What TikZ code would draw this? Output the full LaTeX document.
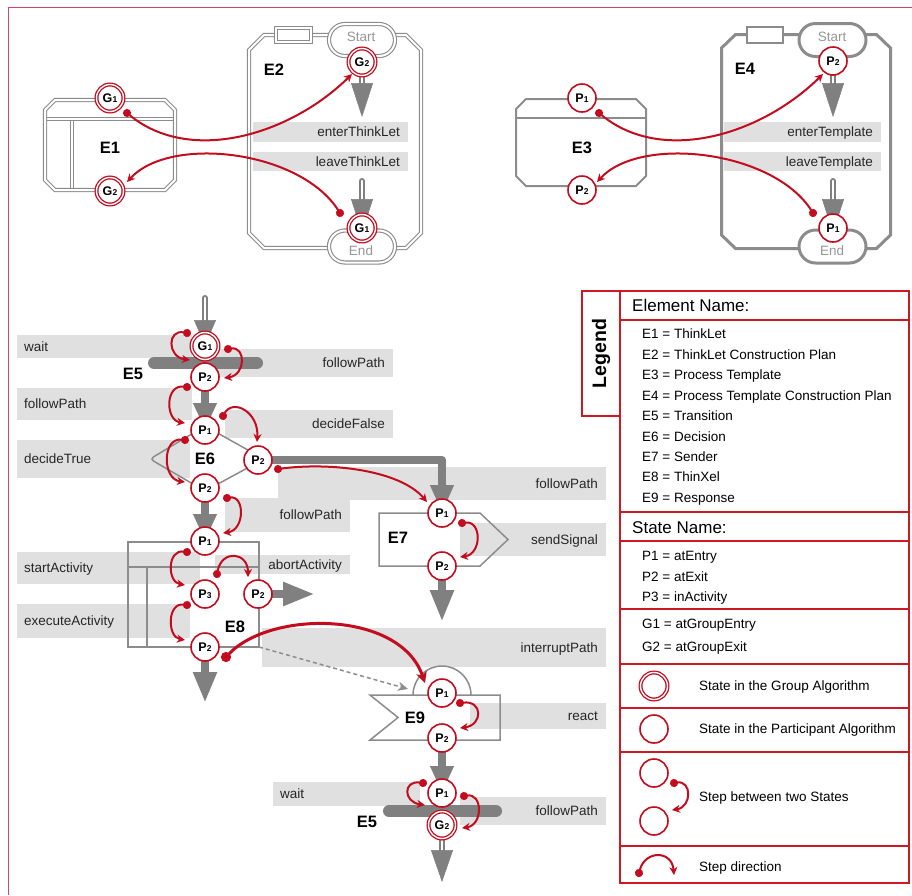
\documentclass[tikz,border=0pt]{standalone}
\usepackage{fontspec}
\setmainfont{Liberation Sans}
\usetikzlibrary{arrows.meta,calc,shapes.misc}
\pgfdeclarelayer{bg}
\pgfdeclarelayer{mid}
\pgfsetlayers{bg,mid,main}
\definecolor{myred}{RGB}{195,12,30}
\definecolor{framered}{RGB}{212,70,90}
\definecolor{legred}{RGB}{205,25,35}
\definecolor{ggray}{RGB}{128,128,128}
\definecolor{fgray}{RGB}{140,140,140}
\definecolor{lblfill}{RGB}{224,224,224}
\definecolor{txtgray}{RGB}{150,150,150}
\newcommand\stn[2]{#1\kern0.2pt{\fontsize{8.5}{9}\selectfont #2}}
\tikzset{
 lbl/.style={inner sep=0pt, font=\fontsize{13.5}{16}\selectfont, text height=9.7pt, text depth=0pt, text=black!85},
 lgt/.style={inner sep=0pt, font=\fontsize{13.5}{16}\selectfont, text height=9.7pt, text depth=0pt, anchor=west},
 lgh/.style={inner sep=0pt, font=\fontsize{17}{19}\selectfont, text height=12.2pt, text depth=0pt, anchor=west},
 elab/.style={inner sep=0pt, font=\fontsize{16.5}{18}\selectfont\bfseries, text height=11.8pt, text depth=0pt},
 se/.style={inner sep=0pt, font=\fontsize{13.5}{16}\selectfont, text height=9.7pt, text depth=0pt, text=txtgray},
 st/.style={circle, draw=myred, line width=1.6pt, fill=white, minimum size=28pt, inner sep=0pt, font=\fontsize{12.5}{12.5}\selectfont\bfseries},
 gst/.style={st, double=white, double distance=1.4pt, line width=1.3pt, minimum size=27pt},
 dframe/.style={draw=fgray, line width=1.1pt, double=white, double distance=2pt},
 sframe/.style={draw=fgray, line width=3pt},
 tframe/.style={draw=fgray, line width=1.5pt},
 stadD/.style={rounded rectangle, dframe, fill=white, minimum width=66pt, minimum height=32pt, inner sep=0pt},
 stadS/.style={rounded rectangle, draw=fgray, line width=3pt, fill=white, minimum width=67pt, minimum height=33pt, inner sep=0pt},
 rectD/.style={rectangle, dframe, fill=white, minimum width=35pt, minimum height=14pt, inner sep=0pt},
 rectS/.style={rectangle, draw=fgray, line width=2pt, fill=white, minimum width=36pt, minimum height=16pt, inner sep=0pt},
 gthick/.style={draw=ggray, line width=8pt, line join=round, -{Triangle[length=#1, width=22pt]}},
 dshaft/.style={draw=ggray, line width=1.7pt, double=white, double distance=2.6pt, line cap=round},
 ghead/.style={draw=ggray, line width=0.5pt, -{Triangle[length=#1, width=22pt]}},
 stepar/.style={draw=myred, line width=2pt, shorten <=-4pt, {Circle[length=8pt]}-{Stealth[length=8pt, width=8pt, inset=2.5pt]}},
 bigar/.style={draw=myred, line width=3pt, shorten <=-5pt, {Circle[length=10pt]}-{Stealth[length=11pt, width=11pt, inset=3pt]}},
 legline/.style={draw=legred, line width=1.4pt},
 ebar/.style={draw=ggray, line width=12pt, line cap=round}
}
\newcommand\lboxR[6]{\begin{pgfonlayer}{bg}\fill[lblfill] (#2,#3) rectangle (#4,#5);\end{pgfonlayer}
  \node[lbl, anchor=east] (#1) at ({#4-8},{(#3+#5)/2}) {#6};}
\newcommand\lboxL[6]{\begin{pgfonlayer}{bg}\fill[lblfill] (#2,#3) rectangle (#4,#5);\end{pgfonlayer}
  \node[lbl, anchor=west] (#1) at ({#2+7},{(#3+#5)/2}) {#6};}
\begin{document}
\begin{tikzpicture}[x=1pt,y=-1pt]
\useasboundingbox (0,0) rectangle (912,895);
\begin{pgfonlayer}{bg}
\fill[white] (0,0) rectangle (912,895);
\end{pgfonlayer}
\draw[framered, line width=1.5pt] (912,7.5) -- (8.5,7.5) -- (8.5,895);

% ---------- label boxes ----------
\lboxR{l1}{253}{122}{408}{142}{enterThinkLet}
\lboxR{l2}{253}{152}{408}{171}{leaveThinkLet}
\lboxR{l3}{724}{122}{881}{142}{enterTemplate}
\lboxR{l4}{724}{152}{881}{171}{leaveTemplate}
\lboxL{l5}{17}{335}{192}{358}{wait}
\lboxR{l6}{215}{349}{393}{377}{followPath}
\lboxL{l7}{17}{388}{192}{420}{followPath}
\lboxR{l8}{225}{410}{393}{438}{decideFalse}
\lboxL{l9}{17}{440}{190}{478}{decideTrue}
\lboxR{l11}{278}{467}{606}{500}{followPath}
\lboxR{l10}{225}{498}{350}{532}{followPath}
\lboxR{l12}{460}{523}{606}{556}{sendSignal}
\lboxL{l13}{17}{552}{200}{584}{startActivity}
\lboxR{l14}{215}{555}{350}{574}{abortActivity}
\lboxL{l15}{17}{604}{190}{638}{executeActivity}
\lboxR{l16}{262}{628}{606}{667}{interruptPath}
\lboxR{l17}{470}{703}{606}{729}{react}
\lboxL{l18}{273}{782}{420}{806}{wait}
\lboxR{l19}{460}{797}{606}{825}{followPath}

% ---------- element shapes ----------
\begin{pgfonlayer}{mid}
% E1
\draw[dframe] (46.6,119) -- (173.4,119);
\draw[dframe] (72,120.6) -- (72,188.4);
\draw[dframe] (45,110) -- (55,100) -- (165,100) -- (175,110) -- (175,180) -- (165,190) -- (55,190) -- (45,180) -- cycle;
% E2
\draw[dframe] (249,50) -- (264,35) -- (406,35) -- (421,50) -- (421,233) -- (406,248) -- (264,248) -- (249,233) -- cycle;
\node[rectD] (E2r) at (293.5,35) {};
\node[stadD] (E2s) at (362,40) {};
\node[stadD] (E2e) at (362,246.5) {};
% E3
\draw[draw=fgray, line width=2pt] (516,109) -- (526,99) -- (636,99) -- (646,109) -- (646,176) -- (636,186) -- (526,186) -- (516,176) -- cycle;
\draw[draw=fgray, line width=2pt] (516,118) -- (646,118);
% E4
\draw[sframe] (721.5,48) -- (735.5,34.5) -- (876.5,34.5) -- (890.5,48) -- (890.5,235) -- (876.5,248.5) -- (735.5,248.5) -- (721.5,235) -- cycle;
\node[rectS] (E4r) at (765,35) {};
\node[stadS] (E4s) at (832.5,40) {};
\node[stadS] (E4e) at (832.5,246.5) {};
% E5 bars
\draw[ebar] (154,363) -- (257,363);
\draw[ebar] (389,811) -- (496,811);
% E6
\draw[tframe, rounded corners=4pt] (205,426) -- (264,459) -- (205,491) -- (150,459) -- cycle;
% E7
\draw[tframe] (379,513) -- (480,513) -- (508,539.5) -- (480,566) -- (379,566) -- cycle;
% E8
\draw[tframe] (128,542) rectangle (259,647);
\draw[tframe] (128,567) -- (259,567);
\draw[tframe] (147,567) -- (147,647);
% E9
\draw[tframe] (413,695) arc[start angle=180, end angle=360, radius=29];
\draw[tframe] (370,695) -- (500,695) -- (500,740) -- (370,740) -- (398,717.5) -- cycle;
\end{pgfonlayer}

% ---------- element labels ----------
\node[elab] (tE1) at (110,148) {E1};
\node[elab] (tE2) at (274,70) {E2};
\node[elab] (tE3) at (582,148) {E3};
\node[elab] (tE4) at (745,69) {E4};
\node[elab] (tE5) at (133,374) {E5};
\node[elab] (tE6) at (205,459) {E6};
\node[elab] (tE7) at (398,538) {E7};
\node[elab] (tE8) at (235,627) {E8};
\node[elab] (tE9) at (415,718) {E9};
\node[elab] (tE5b) at (367,822) {E5};
\node[se] (tS2) at (361,37) {Start};
\node[se] (tN2) at (361,251) {End};
\node[se] (tS4) at (832,37) {Start};
\node[se] (tN4) at (832,251) {End};

% ---------- states ----------
\node[gst] (E1G1) at (110,98) {\stn{G}{1}};
\node[gst] (E1G2) at (110,191) {\stn{G}{2}};
\node[gst] (E2G2) at (362,62) {\stn{G}{2}};
\node[gst] (E2G1) at (362,228) {\stn{G}{1}};
\node[st] (E3P1) at (582,98) {\stn{P}{1}};
\node[st] (E3P2) at (582,190) {\stn{P}{2}};
\node[st] (E4P2) at (833,61) {\stn{P}{2}};
\node[st] (E4P1) at (833,228) {\stn{P}{1}};
\node[gst] (T1G1) at (205,346) {\stn{G}{1}};
\node[st] (T1P2) at (205,377) {\stn{P}{2}};
\node[st] (DP1) at (205,430) {\stn{P}{1}};
\node[st] (DP2r) at (258,460) {\stn{P}{2}};
\node[st] (DP2b) at (205,488) {\stn{P}{2}};
\node[st] (SP1) at (442,513) {\stn{P}{1}};
\node[st] (SP2) at (442,566) {\stn{P}{2}};
\node[st] (AP1) at (205,541) {\stn{P}{1}};
\node[st] (AP3) at (205,594) {\stn{P}{3}};
\node[st] (AP2r) at (258,594) {\stn{P}{2}};
\node[st] (AP2b) at (205,647) {\stn{P}{2}};
\node[st] (RP1) at (442,693) {\stn{P}{1}};
\node[st] (RP2) at (442,738) {\stn{P}{2}};
\node[st] (T2P1) at (442,793) {\stn{P}{1}};
\node[gst] (T2G2) at (442,825) {\stn{G}{2}};

% ---------- gray flow arrows ----------
\coordinate (E2c) at (362,181);
\coordinate (E4c) at (833,181);
\coordinate (Tin) at (205,298);
\coordinate (SP2e) at (442,622);
\coordinate (AP2re) at (315,594);
\coordinate (AP2be) at (205,703);
\coordinate (E8c) at (259,647);
\coordinate (E9in) at (408,689);
\begin{pgfonlayer}{mid}
\draw[dshaft] (E2G2.center) -- ($(E2G2)+(0,23)$);
\draw[ghead=34pt] ($(E2G2)+(0,21)$) -- ($(E2G2)+(0,55)$);
\draw[dshaft] (E2c) -- ($(E2G1)+(0,-27)$);
\draw[ghead=34pt] ($(E2G1)+(0,-29)$) -- ($(E2G1)+(0,5)$);
\draw[dshaft] (E4P2.center) -- ($(E4P2)+(0,24)$);
\draw[ghead=34pt] ($(E4P2)+(0,22)$) -- ($(E4P2)+(0,56)$);
\draw[dshaft] (E4c) -- ($(E4P1)+(0,-27)$);
\draw[ghead=34pt] ($(E4P1)+(0,-29)$) -- ($(E4P1)+(0,5)$);
\draw[dshaft] (Tin) -- ($(T1G1)+(0,-22)$);
\draw[ghead=26pt] ($(T1G1)+(0,-26)$) -- (T1G1.center);
\draw[dshaft] (T2G2.center) -- ($(T2G2)+(0,27)$);
\draw[ghead=32pt] ($(T2G2)+(0,25)$) -- ($(T2G2)+(0,57)$);
\draw[gthick=27pt] (T1P2.center) -- (DP1.center);
\draw[gthick=27pt] (DP2b.center) -- (AP1.center);
\draw[gthick=28pt] (DP2r.center) -| (SP1.center);
\draw[gthick=32pt] (SP2.center) -- (SP2e);
\draw[gthick=32pt] (AP2r.center) -- (AP2re);
\draw[gthick=31pt] (AP2b.center) -- (AP2be);
\draw[gthick=27pt] (RP2.center) -- (T2P1.center);
\draw[draw=ggray!90, line width=1.5pt, dash pattern=on 4pt off 3pt, -{Stealth[length=10pt, width=9pt, inset=3pt]}] (E8c) -- (E9in);
\end{pgfonlayer}

% ---------- red step arrows ----------
\draw[stepar] ($(E1G1)+(17,15)$) .. controls +(63,52) and +(-62,61) .. ($(E2G2)+(-10,12)$);
\draw[stepar] ($(E2G1)+(-22,-15)$) .. controls +(-40,-63) and +(43,-47) .. ($(E1G2)+(17,-9)$);
\draw[stepar] ($(E3P1)+(17,15)$) .. controls +(63,52) and +(-62,61) .. ($(E4P2)+(-10,13)$);
\draw[stepar] ($(E4P1)+(-20,-15)$) .. controls +(-40,-63) and +(43,-47) .. ($(E3P2)+(15,-8)$);
\draw[stepar] ($(T1G1)+(-18,-13)$) .. controls +(-20,-4) and +(-23,-3) .. ($(T1G1)+(-15,14)$);
\draw[stepar] ($(T1G1)+(23,3)$) .. controls +(18,-3) and +(22,-3) .. ($(T1P2)+(19,1)$);
\draw[stepar] ($(T1P2)+(-18,10)$) .. controls +(-22,-3) and +(-20,-3) .. ($(DP1)+(-20,-7)$);
\draw[stepar] ($(DP1)+(18,-14)$) .. controls +(10,-18) and +(2,-30) .. ($(DP2r)+(-1,-18)$);
\draw[stepar] ($(DP1)+(-20,10)$) .. controls +(-23,-3) and +(-23,-3) .. ($(DP2b)+(-20,-6)$);
\draw[stepar] ($(DP2r)+(20,9)$) .. controls +(52,-7) and +(-27,-32) .. ($(SP1)+(-15,-11)$);
\draw[stepar] ($(DP2b)+(22,10)$) .. controls +(18,-3) and +(22,-3) .. ($(AP1)+(18,-8)$);
\draw[stepar] ($(SP1)+(20,10)$) .. controls +(20,-3) and +(22,-3) .. ($(SP2)+(18,-9)$);
\draw[stepar] ($(AP1)+(-18,11)$) .. controls +(-20,-3) and +(-18,-3) .. ($(AP3)+(-20,-9)$);
\draw[stepar] ($(AP3)+(12,-20)$) .. controls +(5,-25) and +(0,-25) .. ($(AP2r)+(-10,-17)$);
\draw[stepar] ($(AP3)+(-18,11)$) .. controls +(-20,-3) and +(-18,-3) .. ($(AP2b)+(-20,-7)$);
\draw[bigar] ($(AP2b)+(21,10)$) .. controls +(44,-47) and +(-25,-73) .. ($(RP1)+(-17,-10)$);
\draw[stepar] ($(RP1)+(18,10)$) .. controls +(23,-3) and +(23,-3) .. ($(RP2)+(18,-10)$);
\draw[stepar] ($(T2P1)+(-19,-10)$) .. controls +(-20,-3) and +(-22,-3) .. ($(T2P1)+(-17,12)$);
\draw[stepar] ($(T2P1)+(22,3)$) .. controls +(19,-3) and +(21,-3) .. ($(T2G2)+(20,3)$);

% ---------- legend ----------
\draw[legline] (582,291) rectangle (620,416);
\draw[legline] (620,291) rectangle (909,883);
\foreach \yy in {320,512,541,609,664,708,752,846} \draw[legline] (620,\yy) -- (909,\yy);
\node[rotate=90, inner sep=0pt, font=\fontsize{19.5}{20}\selectfont\bfseries] (leg) at (601,353.5) {Legend};
\node[lgh] (hEN) at (632,305.5) {Element Name:};
\node[lgt] (le1) at (642,334) {E1 = ThinkLet};
\node[lgt] (le2) at (642,354.5) {E2 = ThinkLet Construction Plan};
\node[lgt] (le3) at (642,375) {E3 = Process Template};
\node[lgt] (le4) at (642,395.5) {E4 = Process Template Construction Plan};
\node[lgt] (le5) at (642,416) {E5 = Transition};
\node[lgt] (le6) at (642,436.5) {E6 = Decision};
\node[lgt] (le7) at (642,456.5) {E7 = Sender};
\node[lgt] (le8) at (642,477) {E8 = ThinXel};
\node[lgt] (le9) at (642,497.5) {E9 = Response};
\node[lgh] (hSN) at (632,527) {State Name:};
\node[lgt] (lp1) at (642,556) {P1 = atEntry};
\node[lgt] (lp2) at (642,576.5) {P2 = atExit};
\node[lgt] (lp3) at (642,597) {P3 = inActivity};
\node[lgt] (lg1) at (642,623.5) {G1 = atGroupEntry};
\node[lgt] (lg2) at (642,647) {G2 = atGroupExit};
\node[gst] (Lg1) at (654,686) {};
\node[lgt] (lt1) at (699,686) {State in the Group Algorithm};
\node[st] (Lp1) at (654,729) {};
\node[lgt] (lt2) at (699,729) {State in the Participant Algorithm};
\node[st] (Ls1) at (654,773) {};
\node[st] (Ls2) at (654,821) {};
\node[lgt] (lt3) at (699,797) {Step between two States};
\draw[stepar] ($(Ls1)+(20,10)$) .. controls +(18,-3) and +(20,-3) .. ($(Ls2)+(18,-11)$);
\coordinate (SDa) at (639,873);
\coordinate (SDb) at (674,875);
\draw[stepar] (SDa) .. controls +(6,-23) and +(-2,-25) .. (SDb);
\node[lgt] (lt4) at (699,866.5) {Step direction};
\end{tikzpicture}
\end{document}
